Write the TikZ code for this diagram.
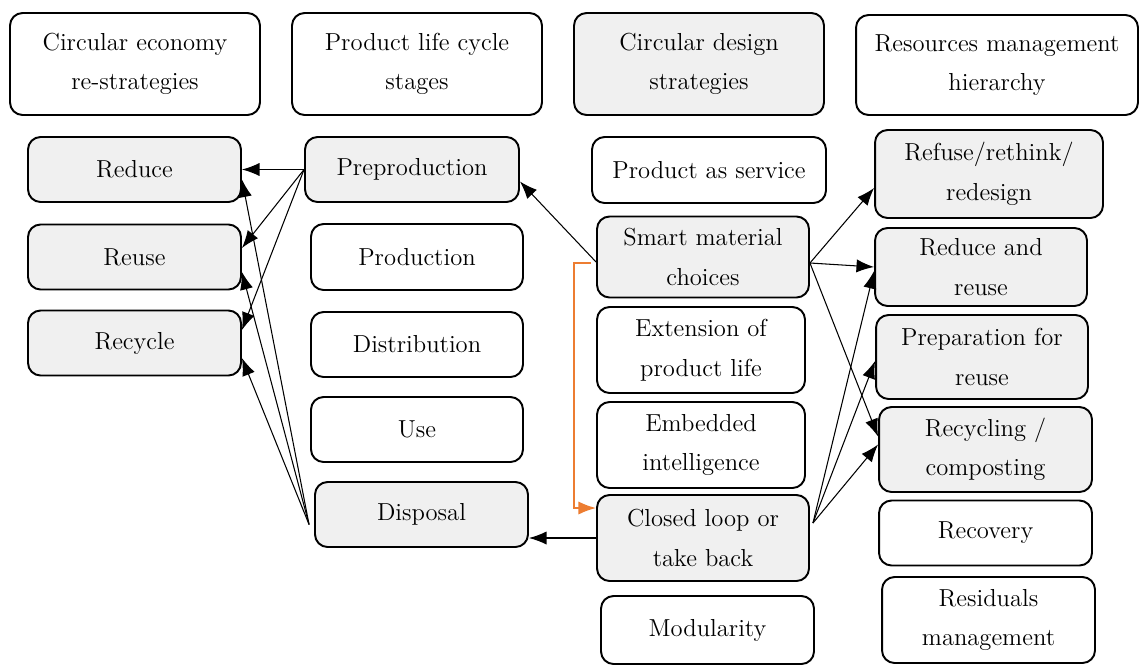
\documentclass[tikz,border=0pt]{standalone}
\usetikzlibrary{arrows.meta}

\definecolor{boxgray}{RGB}{240,240,240}
\definecolor{looporange}{RGB}{237,125,49}

\tikzset{
  box/.style={draw, line width=1.1pt, rounded corners=0.25cm, align=center,
    inner sep=0pt, font=\fontsize{14}{22.5}\selectfont},
  greybox/.style={box, fill=boxgray},
  arr/.style={-{Latex[length=10pt,width=7.5pt]}, line width=0.6pt},
}

\begin{document}
\begin{tikzpicture}[x=0.02cm,y=-0.02cm]
    \useasboundingbox (0,0) rectangle (1142,666);

    % Column headers
    \node[box, minimum width=5cm, minimum height=2.04cm] (hce) at (135,64) {Circular economy\\re-strategies};
    \node[box, minimum width=5cm, minimum height=2.04cm] (hplc) at (417,64) {Product life cycle\\stages};
    \node[greybox, minimum width=5cm, minimum height=2.04cm] (hcds) at (699,64) {Circular design\\strategies};
    \node[box, minimum width=5.64cm, minimum height=2cm] (hrmh) at (997,65) {Resources management\\hierarchy};

    % Re-strategies
    \node[greybox, minimum width=4.26cm, minimum height=1.3cm] (reduce) at (134.5,169.5) {Reduce};
    \node[greybox, minimum width=4.26cm, minimum height=1.3cm] (reuse) at (134.5,257) {Reuse};
    \node[greybox, minimum width=4.26cm, minimum height=1.3cm] (recycle) at (134.5,343) {Recycle};

    % Life cycle stages
    \node[greybox, minimum width=4.28cm, minimum height=1.3cm] (prepro) at (412,169.5) {Preproduction};
    \node[box, minimum width=4.24cm, minimum height=1.32cm] (produc) at (417,257) {Production};
    \node[box, minimum width=4.24cm, minimum height=1.3cm] (distrib) at (417,344.5) {Distribution};
    \node[box, minimum width=4.24cm, minimum height=1.3cm] (use) at (417,429.5) {Use};
    \node[greybox, minimum width=4.26cm, minimum height=1.3cm] (disposal) at (421.5,514.5) {Disposal};

    % Design strategies
    \node[box, minimum width=4.68cm, minimum height=1.32cm] (service) at (709,170) {Product as service};
    \node[greybox, minimum width=4.24cm, minimum height=1.62cm] (smart) at (703,257) {Smart material\\choices};
    \node[box, minimum width=4.16cm, minimum height=1.72cm] (extend) at (701,350) {Extension of\\product life};
    \node[box, minimum width=4.16cm, minimum height=1.72cm] (embed) at (701,445) {Embedded\\intelligence};
    \node[greybox, minimum width=4.24cm, minimum height=1.72cm] (loop) at (703,538) {Closed loop or\\take back};
    \node[box, minimum width=4.26cm, minimum height=1.36cm] (modul) at (707.5,630) {Modularity};

    % Management hierarchy
    \node[greybox, minimum width=4.56cm, minimum height=1.76cm] (refuse) at (989,174) {Refuse/rethink/\\redesign};
    \node[greybox, minimum width=4.24cm, minimum height=1.56cm] (redreuse) at (981,267) {Reduce and\\reuse};
    \node[greybox, minimum width=4.24cm, minimum height=1.68cm] (prepare) at (982,357) {Preparation for\\reuse};
    \node[greybox, minimum width=4.26cm, minimum height=1.7cm] (recycling) at (985.5,449.5) {Recycling /\\composting};
    \node[box, minimum width=4.26cm, minimum height=1.3cm] (recovery) at (985.5,533) {Recovery};
    \node[box, minimum width=4.26cm, minimum height=1.72cm] (resid) at (988.5,620) {Residuals\\management};

    % Arrows to the re-strategies
    \draw[arr] (prepro.west) -- (reduce.east);
    \foreach \target/\shift in {reuse/0.18cm, recycle/0.26cm}
        \draw[arr] (prepro.west) -- ([yshift=\shift]\target.east);
    \foreach \target/\shift in {reduce/-0.2cm, reuse/-0.3cm, recycle/-0.3cm}
        \draw[arr] ([xshift=-0.1cm,yshift=-0.2cm]disposal.west) -- ([yshift=\shift]\target.east);

    % Arrows from the design strategies
    \draw[arr] ([yshift=-0.1cm]smart.west) -- ([yshift=-0.24cm]prepro.east);
    \draw[arr] (loop.west) -- (loop.west -| disposal.east);
    \draw[arr, looporange, line width=1pt] ([xshift=-0.1cm,yshift=-0.12cm]smart.west) -- ++(-0.34cm,0)
        |- ([yshift=0.6cm]loop.west);

    % Arrows to the management hierarchy
    \foreach \target/\shift in {refuse/-0.28cm, redreuse/0cm, recycling/0.26cm}
        \draw[arr] ([yshift=-0.12cm]smart.east) -- ([yshift=\shift]\target.west);
    \foreach \target/\shift in {redreuse/-0.08cm, prepare/-0.08cm, recycling/0.1cm}
        \draw[arr] ([xshift=0.06cm,yshift=0.3cm]loop.east) -- ([yshift=\shift]\target.west);
\end{tikzpicture}
\end{document}
